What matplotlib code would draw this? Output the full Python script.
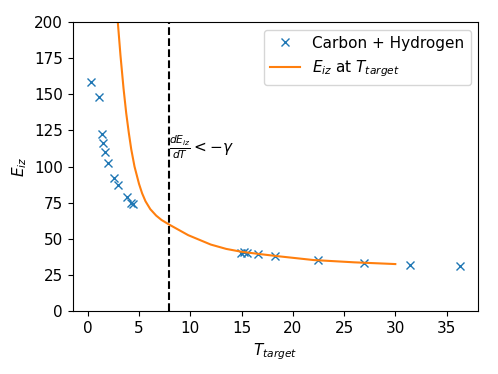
import matplotlib
matplotlib.use("Agg")
import matplotlib.pyplot as plt

plt.rcParams['font.size'] = 11

# Measured data (Carbon + Hydrogen)
t_data = [0.33, 1.11, 1.40, 1.47, 1.66, 1.95, 2.54, 2.93, 3.81, 4.20, 4.40,
          14.9, 15.2, 15.5, 16.6, 18.3, 22.5, 26.9, 31.4, 36.3]
e_data = [158.5, 148.3, 122.7, 116.3, 110.0, 102.2, 92.0, 87.0, 78.7, 75.0, 74.0,
          40.5, 40.7, 40.4, 39.2, 37.8, 35.1, 33.4, 32.0, 30.9]

# E_iz curve
t_curve = [2.93, 3.19, 3.49, 3.75, 4.0, 4.24, 4.56, 5.0, 5.3, 5.63, 6.1, 6.68,
           7.2, 7.9, 9.8, 12.0, 13.5, 15.0, 16.8, 18.6, 22.0, 26.0, 30.0]
e_curve = [200, 177, 154, 137, 123.5, 112, 100, 88, 81.5, 76, 70.5, 66,
           63, 60, 52.5, 46, 43, 41, 39.4, 37.9, 35.3, 33.7, 32.5]

t_threshold = 7.9
label_y = 113

fig = plt.figure(figsize=(4.98, 3.74), dpi=100)
ax = fig.add_axes([0.146, 0.1684, 0.8145, 0.7726])

ax.plot(t_data, e_data, 'x', color='C0', label='Carbon + Hydrogen')
ax.plot(t_curve, e_curve, '-', color='C1', label=r'$E_{iz}$ at $T_{target}$')
ax.axvline(t_threshold, color='black', linestyle='--')
ax.text(t_threshold, label_y, r'$\frac{dE_{iz}}{dT} < -\gamma$', va='center', ha='left', fontsize=11)

ax.set_ylim(0, 200)
ax.set_xlabel(r'$T_{target}$')
ax.set_ylabel(r'$E_{iz}$')
ax.legend(loc='upper right')

fig.savefig('out.png', dpi=100)
